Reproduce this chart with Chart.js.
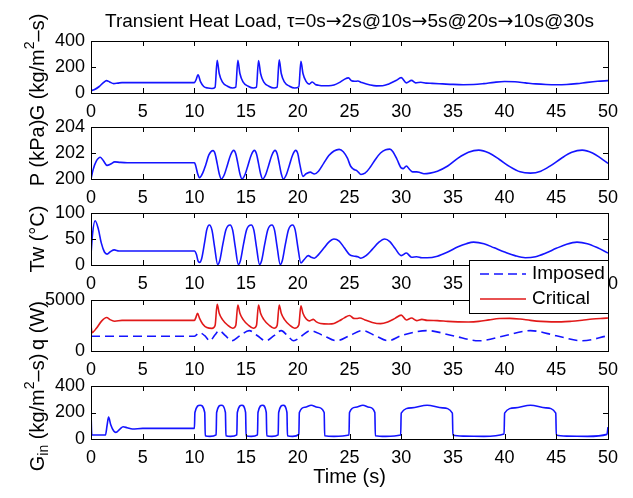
<!DOCTYPE html>
<html>
<head>
<meta charset="utf-8">
<script src="https://cdn.jsdelivr.net/npm/chart.js@4.4.0/dist/chart.umd.min.js"></script>
<style>
  html, body { margin: 0; padding: 0; background: #fff; }
  #wrap { position: relative; width: 633px; height: 498px; }
  #wrap canvas { position: absolute; left: 0; top: 0; }
</style>
</head>
<body>
<div id="wrap">
  <canvas id="c1" width="633" height="498"></canvas>
  <canvas id="c2" width="633" height="498"></canvas>
  <canvas id="c3" width="633" height="498"></canvas>
  <canvas id="c4" width="633" height="498"></canvas>
  <canvas id="c5" width="633" height="498"></canvas>
</div>
<script>
// ---- data, [time (s), value] ----

// mass flux G (kg/m^2-s)
const massFlux = [
  [0, 18], [0.3, 25], [0.8, 50], [1.2, 80], [1.5, 95], [1.8, 85], [2.2, 72], [2.6, 76], [3.0, 80],
  [10.0, 80], [10.15, 100], [10.35, 140], [10.6, 85], [10.9, 50], [11.3, 38], [11.7, 35], [12.0, 45],
  [12.2, 252], [12.4, 150], [12.7, 85], [13.2, 52], [13.7, 38], [14.0, 45],
  [14.2, 252], [14.4, 150], [14.7, 85], [15.2, 52], [15.7, 38], [16.0, 45],
  [16.2, 250], [16.4, 150], [16.7, 85], [17.2, 52], [17.7, 38], [18.0, 45],
  [18.2, 255], [18.4, 150], [18.7, 85], [19.2, 52], [19.7, 38], [20.1, 48],
  [20.3, 244], [20.5, 150], [20.8, 90], [21.1, 68], [21.4, 85], [21.7, 66], [22.0, 60], [22.5, 56],
  [23.0, 56], [23.5, 62], [24.0, 80], [24.5, 105], [24.9, 116], [25.2, 94], [25.5, 90], [25.8, 92],
  [26.2, 80], [27.0, 62], [27.6, 55], [28.2, 56], [28.8, 70], [29.5, 96], [30.0, 118], [30.5, 78],
  [31.0, 97], [31.4, 78], [31.9, 83], [32.4, 76], [33, 74], [34, 70], [35, 66], [36, 64], [37, 65],
  [38, 72], [39, 82], [40, 88], [41, 86], [42, 78], [43, 70], [44, 65], [45, 63], [46, 65], [47, 72],
  [48, 82], [49, 90], [50, 95]
];

// pressure P (kPa)
const pressure = [
  [0, 200.0], [0.2, 200.7], [0.5, 201.35], [0.9, 201.67], [1.2, 201.4], [1.55, 201.05], [1.9, 201.15],
  [2.3, 201.32], [2.8, 201.28], [3.5, 201.25], [10.0, 201.25], [10.1, 201.1], [10.3, 200.45],
  [10.5, 200.1], [10.8, 200.45], [11.1, 201.1], [11.4, 201.85], [11.8, 202.18], [12.0, 201.95],
  [12.2, 201.2], [12.4, 200.4], [12.6, 200.0],
  [12.9, 200.35], [13.2, 201.1], [13.5, 201.85], [13.8, 202.2], [14.0, 201.95], [14.2, 201.2], [14.4, 200.4], [14.6, 200.0],
  [14.9, 200.35], [15.2, 201.1], [15.5, 201.85], [15.8, 202.2], [16.0, 201.95], [16.2, 201.2], [16.4, 200.4], [16.6, 200.0],
  [16.9, 200.35], [17.2, 201.1], [17.5, 201.85], [17.8, 202.2], [18.0, 201.95], [18.2, 201.2], [18.4, 200.4], [18.6, 200.0],
  [18.9, 200.35], [19.2, 201.1], [19.5, 201.85], [19.8, 202.2], [20.0, 201.95], [20.2, 201.1], [20.5, 200.2],
  [20.8, 200.4], [21.2, 200.53], [21.6, 200.38], [22.0, 200.6], [22.5, 201.2], [23.0, 201.8], [23.5, 202.15],
  [24.0, 202.28], [24.4, 202.1], [24.8, 201.6], [25.1, 201.0], [25.4, 200.75], [25.7, 200.65], [26.1, 200.35],
  [26.5, 200.45], [27.0, 200.9], [27.5, 201.5], [28.0, 202.0], [28.5, 202.25], [28.9, 202.3], [29.2, 202.1],
  [29.6, 201.5], [30.0, 200.85], [30.2, 200.8], [30.5, 201.0], [30.8, 200.75], [31.1, 200.55], [31.5, 200.55],
  [31.8, 200.5], [32.2, 200.4], [32.8, 200.45], [33.5, 200.6], [34.5, 201.0], [35.5, 201.6], [36.5, 202.05],
  [37.5, 202.22], [38.5, 202.0], [39.5, 201.5], [40.5, 200.95], [41.5, 200.55], [42.5, 200.45], [43.5, 200.6],
  [44.5, 201.05], [45.5, 201.6], [46.5, 202.05], [47.5, 202.22], [48.5, 202.0], [49.3, 201.6], [50, 201.2]
];

// wall temperature Tw (C)
const wallTemp = [
  [0, 20], [0.15, 60], [0.4, 85], [0.7, 70], [1.0, 42], [1.3, 25], [1.55, 21], [1.9, 26], [2.25, 29],
  [2.7, 27], [3.5, 27], [10.0, 27], [10.2, 20], [10.35, 8], [10.5, 5], [10.7, 12], [11.0, 45], [11.2, 68],
  [11.45, 77], [11.7, 67], [11.95, 35], [12.25, 1],
  [12.45, 8], [12.75, 40], [13.05, 68], [13.45, 77], [13.7, 67], [13.95, 35], [14.25, 1],
  [14.45, 8], [14.75, 40], [15.05, 68], [15.5, 77], [15.75, 67], [16.0, 35], [16.3, 1],
  [16.5, 8], [16.8, 40], [17.1, 68], [17.5, 77], [17.75, 67], [18.0, 35], [18.3, 1],
  [18.5, 8], [18.8, 40], [19.1, 68], [19.5, 77], [19.75, 67], [20.0, 35], [20.3, 4],
  [20.6, 10], [21.0, 18], [21.3, 15], [21.6, 13], [22.0, 20], [22.5, 32], [23.0, 44], [23.5, 50],
  [24.0, 46], [24.5, 33], [25.0, 20], [25.5, 17], [25.8, 16], [26.1, 13], [26.6, 18], [27.2, 30],
  [27.8, 43], [28.4, 50], [28.9, 45], [29.4, 32], [30.0, 18], [30.5, 23], [31.0, 15], [31.5, 16],
  [32.0, 14], [32.5, 14], [33.5, 17], [34.5, 25], [35.5, 35], [36.3, 41], [37.0, 44], [38.0, 41],
  [39.0, 33], [40.0, 25], [41.0, 18], [42.0, 14], [43.0, 16], [44.0, 23], [45.0, 32], [46.0, 40],
  [47.0, 44], [48.0, 41], [49.0, 33], [50, 23]
];

// heat load q (W): imposed and critical
const heatImposed = [
  [0, 1450], [10.0, 1450], [10.5, 1800], [11.0, 1500], [11.5, 1000], [12.0, 1600], [12.4, 2000],
  [13.0, 1500], [13.6, 1000], [14.4, 1500], [15.3, 2000], [16.1, 1500], [16.9, 1000], [17.7, 1500],
  [18.4, 2000], [19.0, 1500], [19.6, 1000], [20.4, 1500], [21.2, 2000], [22.5, 1500], [23.75, 1000],
  [25.0, 1500], [26.25, 2000], [27.5, 1500], [28.75, 1000], [30.0, 1500], [32.5, 2000], [35.0, 1500],
  [37.5, 1000], [40.0, 1500], [42.5, 2000], [45.0, 1500], [47.5, 1000], [50, 1500]
];

const heatCritical = [
  [0, 2500], [0.1, 1800], [0.5, 2200], [1.0, 2900], [1.5, 3280], [1.9, 3050], [2.3, 2920], [3.0, 3000],
  [10.0, 3000], [10.15, 3300], [10.3, 3700], [10.5, 3200], [10.8, 2650], [11.2, 2300], [11.7, 2220], [12.0, 2500],
  [12.2, 4580], [12.4, 3700], [12.7, 3100], [13.2, 2550], [13.7, 2230], [14.0, 2500],
  [14.2, 4510], [14.4, 3700], [14.7, 3100], [15.2, 2550], [15.7, 2230], [16.0, 2500],
  [16.2, 4510], [16.4, 3700], [16.7, 3100], [17.2, 2550], [17.7, 2230], [18.0, 2500],
  [18.2, 4510], [18.4, 3700], [18.7, 3100], [19.2, 2550], [19.7, 2230], [20.1, 2550],
  [20.3, 4440], [20.5, 3700], [20.8, 3150], [21.1, 2950], [21.5, 3100], [21.8, 2850], [22.2, 2700],
  [23.0, 2650], [23.5, 2700], [24.0, 2950], [24.5, 3250], [25.0, 3480], [25.4, 3200], [25.7, 3180],
  [26.0, 3230], [26.5, 3050], [27.2, 2800], [28.0, 2680], [28.7, 2850], [29.4, 3200], [30.0, 3520],
  [30.5, 3040], [31.0, 3240], [31.5, 2980], [32.0, 3100], [32.5, 3000], [33.5, 2980], [34.5, 2900],
  [35.5, 2860], [36.5, 2850], [37.5, 2900], [38.5, 3050], [39.5, 3180], [40.5, 3200], [41.5, 3130],
  [42.5, 3000], [43.5, 2900], [44.5, 2860], [45.5, 2860], [46.5, 2920], [47.5, 3020], [48.5, 3130],
  [49.5, 3200], [50, 3230]
];

// inlet mass flux G_in (kg/m^2-s)
const inletFlux = [
  [0, 200], [0.08, 30], [1.4, 30], [1.55, 100], [1.7, 165], [1.9, 110], [2.2, 60], [2.4, 50], [2.8, 75],
  [3.1, 92], [3.5, 85], [4.0, 75], [5.0, 80], [10.0, 80],
  [10.05, 200], [10.55, 255], [11.0, 200], [11.05, 25], [11.5, 20], [12.1, 32],
  [12.15, 200], [12.6, 255], [13.0, 200], [13.05, 25], [13.5, 20], [14.1, 32],
  [14.15, 200], [14.6, 255], [14.95, 200], [15.0, 25], [15.5, 20], [16.1, 32],
  [16.15, 200], [16.6, 255], [16.95, 200], [17.0, 25], [17.5, 20], [18.1, 32],
  [18.15, 200], [18.6, 255], [18.95, 200], [19.0, 25], [19.5, 20], [20.1, 35],
  [20.15, 200], [20.7, 240], [21.3, 255], [21.9, 240], [22.55, 200], [22.6, 25], [23.5, 20], [24.95, 30],
  [25.0, 200], [25.6, 240], [26.3, 255], [26.9, 240], [27.45, 200], [27.5, 25], [28.5, 20], [29.95, 30],
  [30.0, 195], [31.0, 235], [32.5, 255], [34.0, 235], [34.95, 195], [35.0, 30], [36.0, 22], [38.0, 20], [39.95, 38],
  [40.0, 195], [41.0, 235], [42.5, 255], [44.0, 235], [44.95, 195], [45.0, 30], [46.0, 22], [48.0, 20],
  [49.9, 35], [50, 90]
];

// title pieces: [text, isArrow]
const titleParts = [
  ['Transient Heat Load, \u03C4=0s', 0], ['\u2192', 1], ['2s@10s', 0], ['\u2192', 1],
  ['5s@20s', 0], ['\u2192', 1], ['10s@30s', 0]
];
const xTitle = 'Time (s)';
const legendLabels = ['Imposed', 'Critical'];

// ---- styling / layout ----
const FONT = "'Liberation Sans', Arial, Helvetica, sans-serif";
const BLUE = 'rgb(20,20,255)';
const RED = 'rgb(225,25,25)';
const PLOT_LEFT = 91, PLOT_RIGHT = 608, W = 633, H = 498;
const X_AXIS_H = 40;
const TICK_LEN = 5;

const toXY = arr => arr.map(p => ({ x: p[0], y: p[1] }));

function lineSet(label, arr, color, dash) {
  return {
    label: label,
    data: toXY(arr),
    borderColor: color,
    borderWidth: 1.6,
    borderDash: dash || [],
    pointRadius: 0,
    fill: false,
    cubicInterpolationMode: 'monotone'
  };
}

// rotated y label with super/subscripts
function drawRotated(ctx, parts, cx, cy, size) {
  ctx.save();
  ctx.translate(cx, cy);
  ctx.rotate(-Math.PI / 2);
  ctx.fillStyle = '#000';
  ctx.textBaseline = 'middle';
  ctx.textAlign = 'left';
  const fontOf = p => (p[1] ? Math.round(size * 0.7) : size) + 'px ' + FONT;
  let total = 0;
  parts.forEach(p => { ctx.font = fontOf(p); total += ctx.measureText(p[0]).width; });
  let x = -total / 2;
  parts.forEach(p => {
    ctx.font = fontOf(p);
    const dy = p[1] === 1 ? -size * 0.38 : (p[1] === -1 ? size * 0.32 : 0);
    ctx.fillText(p[0], x, dy);
    x += ctx.measureText(p[0]).width;
  });
  ctx.restore();
}

function drawTitle(ctx, cx, cy) {
  ctx.save();
  ctx.fillStyle = '#000';
  ctx.textBaseline = 'middle';
  ctx.textAlign = 'left';
  const fontOf = p => p[1] ? "19px 'DejaVu Sans', sans-serif" : '19px ' + FONT;
  let total = 0;
  titleParts.forEach(p => { ctx.font = fontOf(p); total += ctx.measureText(p[0]).width; });
  let x = cx - total / 2;
  titleParts.forEach(p => {
    ctx.font = fontOf(p);
    ctx.fillText(p[0], x, cy);
    x += ctx.measureText(p[0]).width;
  });
  ctx.restore();
}

const PANELS = [
  { id: 'c1', top: 41, bottom: 93, min: 0, max: 400, step: 200,
    sets: [lineSet('G', massFlux, BLUE)],
    label: [['G (kg/m', 0], ['2', 1], ['\u2013s)', 0]] },
  { id: 'c2', top: 127, bottom: 179, min: 200, max: 204, step: 2,
    sets: [lineSet('P', pressure, BLUE)],
    label: [['P (kPa)', 0]] },
  { id: 'c3', top: 213, bottom: 265, min: 0, max: 100, step: 50,
    sets: [lineSet('Tw', wallTemp, BLUE)],
    label: [['Tw (\u00B0C)', 0]] },
  { id: 'c4', top: 300, bottom: 351, min: 0, max: 5000, step: 5000,
    sets: [lineSet(legendLabels[0], heatImposed, BLUE, [9, 5]), lineSet(legendLabels[1], heatCritical, RED)],
    label: [['q (W)', 0]], legend: true },
  { id: 'c5', top: 386, bottom: 439, min: 0, max: 400, step: 200,
    sets: [lineSet('Gin', inletFlux, BLUE)],
    label: [['G', 0], ['in', -1], [' (kg/m', 0], ['2', 1], ['\u2013s)', 0]], xTitle: true }
];

function makeDecor(panel, index) {
  return {
    id: 'decor' + index,
    afterDatasetsDraw(chart) {
      const { ctx, chartArea: a, scales: { x, y } } = chart;
      ctx.save();
      // frame with inward ticks
      ctx.strokeStyle = '#000';
      ctx.lineWidth = 1;
      ctx.beginPath();
      x.ticks.forEach(t => {
        const px = Math.round(x.getPixelForValue(t.value)) + 0.5;
        ctx.moveTo(px, a.bottom); ctx.lineTo(px, a.bottom - TICK_LEN);
        ctx.moveTo(px, a.top); ctx.lineTo(px, a.top + TICK_LEN);
      });
      y.ticks.forEach(t => {
        const py = Math.round(y.getPixelForValue(t.value)) + 0.5;
        ctx.moveTo(a.left, py); ctx.lineTo(a.left + TICK_LEN, py);
        ctx.moveTo(a.right, py); ctx.lineTo(a.right - TICK_LEN, py);
      });
      ctx.stroke();
      ctx.strokeRect(Math.round(a.left) + 0.5, Math.round(a.top) + 0.5,
                     Math.round(a.right - a.left), Math.round(a.bottom - a.top));

      drawRotated(ctx, panel.label, 38, (a.top + a.bottom) / 2, 20);

      if (index === 0) drawTitle(ctx, (a.left + a.right) / 2, 22);
      if (panel.xTitle) {
        ctx.fillStyle = '#000';
        ctx.font = '20px ' + FONT;
        ctx.textAlign = 'center';
        ctx.textBaseline = 'middle';
        ctx.fillText(xTitle, (a.left + a.right) / 2, 477);
      }
      if (panel.legend) {
        const bx = 469, by = 260, bw = a.right - 469, bh = 53;
        ctx.fillStyle = '#fff';
        ctx.fillRect(bx, by, bw, bh);
        ctx.strokeStyle = '#000';
        ctx.strokeRect(bx + 0.5, by + 0.5, bw, bh);
        const rows = [[274, BLUE, [9, 5]], [299, RED, []]];
        rows.forEach((r, i) => {
          ctx.strokeStyle = r[1];
          ctx.lineWidth = 1.6;
          ctx.setLineDash(r[2]);
          ctx.beginPath();
          ctx.moveTo(480, r[0]); ctx.lineTo(526, r[0]);
          ctx.stroke();
          ctx.setLineDash([]);
          ctx.fillStyle = '#000';
          ctx.font = '19px ' + FONT;
          ctx.textAlign = 'left';
          ctx.textBaseline = 'middle';
          ctx.fillText(legendLabels[i], 532, r[0]);
        });
      }
      ctx.restore();
    }
  };
}

PANELS.forEach((panel, i) => {
  new Chart(document.getElementById(panel.id), {
    type: 'line',
    data: { datasets: panel.sets },
    options: {
      responsive: false,
      animation: false,
      devicePixelRatio: 1,
      layout: {
        padding: { left: 0, right: W - PLOT_RIGHT, top: panel.top, bottom: H - panel.bottom - X_AXIS_H }
      },
      plugins: { legend: { display: false }, tooltip: { enabled: false }, title: { display: false } },
      scales: {
        x: {
          type: 'linear', min: 0, max: 50,
          grid: { display: false, drawTicks: false },
          border: { display: false },
          ticks: { stepSize: 5, autoSkip: false, maxRotation: 0, padding: 8, color: '#000',
                   font: { family: FONT, size: 18 } },
          afterFit(scale) { scale.height = X_AXIS_H; }
        },
        y: {
          min: panel.min, max: panel.max,
          grid: { display: false, drawTicks: false },
          border: { display: false },
          ticks: { stepSize: panel.step, autoSkip: false, padding: 6, color: '#000',
                   font: { family: FONT, size: 18 }, callback: v => String(v) },
          afterFit(scale) { scale.width = PLOT_LEFT; }
        }
      }
    },
    plugins: [makeDecor(panel, i)]
  });
});
</script>
</body>
</html>
